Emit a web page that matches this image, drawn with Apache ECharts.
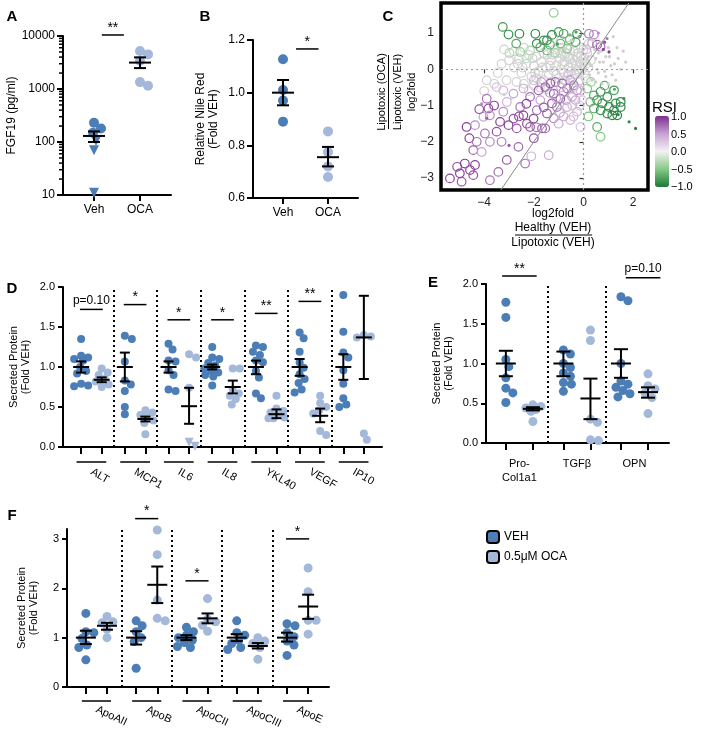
<!DOCTYPE html>
<html><head><meta charset="utf-8">
<script src="https://cdn.jsdelivr.net/npm/echarts@6/dist/echarts.min.js"></script>
<style>html,body{margin:0;padding:0;background:#fff}#c{width:704px;height:734px}</style>
</head><body><div id="c"></div>
<script>
const FONT = '"Liberation Sans", Arial, Helvetica, sans-serif';
const DARK = '#4b7db6', LIGHT = '#a4b8da';

// ---------- Panel A : FGF19 ----------
const aCats = ['Veh', 'OCA'];
const aVehCircles = [180, 230, 150];
const aVehTriangles = [105, 70, 11];
const aOcaCircles = [5200, 4500, 3400, 1150, 1350];
const aMean = [130, 3150], aLow = [100, 2480], aHigh = [158, 3950];
const aSig = [[1.41, 10450, '**']];
const aTicks = [10, 100, 1000, 10000];
const aMinor = [20,30,40,50,60,70,80,90,200,300,400,500,600,700,800,900,2000,3000,4000,5000,6000,7000,8000,9000];

// ---------- Panel B : Nile Red ----------
const bCats = ['Veh', 'OCA'];
const bVeh = [1.127, 1.01, 0.97, 0.89];
const bOca = [0.853, 0.775, 0.72, 0.68];
const bMean = [1.0, 0.755], bLow = [0.952, 0.72], bHigh = [1.048, 0.794];
const bSig = [[1.54, 1.166, '*']];

// ---------- Panel C : log2fold scatter [x, y, RSI] ----------
const cSigOpen = [
[-1.20,1.56,-0.45],[-3.25,1.17,-0.8],[-3.02,0.96,-0.85],[-2.58,0.98,-0.9],[-2.71,0.71,-0.7],[-2.98,0.45,-0.3],[-2.55,0.48,-0.4],[-2.15,0.52,-0.3],[-1.94,0.98,-0.9],[-1.88,0.71,-0.85],[-1.74,0.61,-0.75],[-1.60,0.80,-0.8],[-1.47,0.80,-0.85],[-1.47,0.52,-0.6],[-1.35,0.68,-0.7],[-1.27,0.95,-0.9],[-1.00,1.03,-0.8],[-0.93,0.71,-0.6],[-0.80,0.98,-0.75],[-0.66,0.57,-0.5],[-0.55,0.82,-0.6],[-0.32,0.75,-0.7],[-0.26,0.98,-0.85],[-2.30,0.30,-0.25],[-1.15,0.45,-0.35],
[0.22,0.98,0.7],[0.42,0.96,0.6],[0.35,0.72,0.5],[0.55,0.68,0.8],[0.69,0.62,0.75],[0.12,0.55,0.4],
[0.15,-0.53,-0.5],[0.42,-0.72,-0.7],[0.69,-0.62,-0.8],[0.96,-0.76,-0.85],[1.23,-0.58,-0.8],[0.28,-0.90,-0.6],[0.55,-0.85,-0.8],[0.76,-0.94,-0.85],[1.03,-1.04,-0.9],[1.30,-0.94,-0.9],[1.50,-0.90,-0.9],[0.42,-1.08,-0.7],[0.69,-1.13,-0.85],[0.96,-1.22,-0.9],[1.16,-1.27,-0.95],[1.36,-1.27,-0.95],[1.23,-1.13,-0.9],[0.55,-1.59,-0.7],[0.69,-1.86,-0.5],[1.50,-1.04,-0.9],[0.30,-0.35,-0.4],[0.85,-0.45,-0.7],[0.20,-1.30,-0.55],
[-5.38,-3.01,0.9],[-5.09,-2.69,0.85],[-4.91,-3.10,0.8],[-4.98,-2.87,0.9],[-4.78,-2.60,0.95],[-4.57,-2.78,0.9],[-4.44,-2.92,0.85],[-4.37,-2.64,0.9],[-4.71,-1.59,0.95],[-4.37,-1.54,0.6],[-4.44,-2.23,0.8],[-4.10,-2.28,0.5],[-3.97,-1.77,0.7],[-3.90,-0.81,0.7],[-3.83,-1.08,0.85],[-3.77,-1.27,0.6],[-4.03,-1.31,0.5],[-3.77,-3.06,0.7],[-3.43,-2.83,0.75],[-3.77,-2.00,0.6],[-3.50,-1.72,0.85],[-3.36,-1.45,0.9],[-3.23,-1.17,0.6],[-3.09,-0.90,0.4],[-3.02,-1.54,0.9],[-2.82,-1.36,0.85],[-2.69,-1.63,0.8],[-2.55,-1.04,0.7],[-2.42,-1.27,0.9],[-2.28,-1.50,0.85],[-2.35,-2.60,0.7],[-2.62,-2.14,0.75],[-3.09,-2.50,0.8],[-2.15,-1.59,0.8],[-2.01,-1.36,0.9],[-1.88,-1.13,0.7],[-1.74,-0.85,0.5],[-1.67,-1.63,0.8],[-1.54,-1.63,0.75],[-1.40,-2.37,0.45],[-1.47,-1.22,0.8],[-1.27,-0.94,0.85],[-1.20,-0.67,0.8],[-1.07,-1.04,0.7],[-0.93,-0.81,0.75],[-0.86,-0.39,0.8],[-0.66,-0.53,0.7],[-0.53,-0.30,0.6],[-0.39,-0.44,0.7],[-0.26,-0.58,0.6],[-0.46,-0.76,0.5],[-0.66,-1.04,0.45],[-0.26,-1.17,0.4],[-0.12,-1.59,0.3],[-0.53,-1.40,0.4],[-0.32,-0.85,0.5],[-2.82,-0.67,0.5],[-2.42,-0.53,0.45],[-2.15,-0.76,0.7],[-3.23,-0.58,0.35],[-3.50,-0.49,0.3],[-1.81,-0.58,0.75],[-1.54,-0.49,0.8],[-1.34,-0.39,0.85],[-1.13,-0.35,0.7],[-0.80,-0.62,0.6],[-0.05,-0.85,0.3],[-0.12,-0.58,0.35],[-2.00,-1.90,0.85],[-1.90,-1.60,0.7],[-1.20,-1.35,0.6],[-0.95,-1.20,0.5],[-0.70,-0.85,0.55],[-1.60,-1.05,0.8],[-2.30,-0.95,0.9],[-2.60,-1.30,0.85],[-3.60,-1.00,0.9],[-4.20,-1.10,0.85],[-4.60,-1.90,0.9],[-4.30,-2.00,0.7],[-3.30,-2.00,0.65],[-2.10,-2.40,0.4],[-1.00,-1.50,0.45],[-0.40,-1.30,0.35],
[-0.60,-0.15,0.3],[-0.20,-0.35,0.3],[-0.90,-0.50,0.4],[-1.10,-0.80,0.5],[-0.45,-1.00,0.35],[-0.15,-1.00,0.3],[-0.80,-1.30,0.45],[-1.35,-0.65,0.6],[-2.00,-0.30,0.35],[-1.70,-0.35,0.5]
];
const cSigDots = [[0.80,0.55,0.9],[1.03,0.48,0.95],[0.60,1.00,0.6],[0.85,0.75,0.85],[0.95,0.85,0.7],[1.84,-1.45,-0.9],[2.10,-1.63,-0.95],[1.63,-0.81,-0.85],[1.25,-0.55,-0.7],[1.40,-1.25,-0.9],[1.05,-0.62,-0.7],[-0.30,1.03,-0.8],[-0.15,0.90,-0.7],[-1.05,0.70,-0.8],[-0.55,0.95,-0.6],[-3.90,-1.35,0.8],[-3.00,-2.10,0.8],[-4.10,-0.95,0.6]];
const cGrayOpen = [[-3.3,0.15],[-3.0,0.25],[-2.8,0.05],[-2.6,0.3],[-2.5,-0.1],[-2.3,0.15],[-2.2,0.4],[-2.1,-0.2],[-2.0,0.1],[-1.9,0.35],[-1.8,-0.05],[-1.7,0.2],[-1.6,-0.3],[-1.5,0.05],[-1.45,0.4],[-1.4,-0.15],[-1.3,0.25],[-1.2,-0.05],[-1.15,0.55],[-1.1,0.1],[-1.0,-0.25],[-0.95,0.3],[-0.9,0.0],[-0.85,0.6],[-0.8,-0.1],[-0.75,0.2],[-0.7,0.45],[-0.65,-0.2],[-0.6,0.05],[-0.55,0.3],[-0.5,-0.05],[-0.45,0.15],[-0.4,0.5],[-0.35,-0.15],[-0.3,0.1],[-0.25,0.35],[-0.2,-0.05],[-0.15,0.2],[-0.1,0.6],[-0.05,0.0],[0.0,0.3],[0.05,-0.1],[0.1,0.15],[0.15,0.45],[0.2,0.05],[0.3,0.25],[-3.6,-0.4],[-3.1,-0.3],[-2.7,-0.35],[-2.4,-0.4],[-2.0,-0.45],[-1.75,-0.5],[-1.3,-0.35],[-0.9,0.8],[-2.8,0.5],[-3.2,0.55],[-0.3,0.75],[0.2,0.7],[-1.9,-0.25],[-1.1,-0.15],[-0.6,0.65],[-2.4,0.6],[-0.2,0.45],[-1.6,0.45],[-0.75,0.35],[-3.9,-0.3],[-4.0,-0.6],
[-0.9,0.45],[-0.6,0.35],[-0.35,0.25],[-0.1,0.35],[0.05,0.2],[-0.45,-0.25],[-0.75,-0.3],[-1.25,0.4],[-1.65,0.05],[-2.05,0.3],[-2.45,0.05],[-0.15,-0.3],[0.1,-0.25],[-0.55,0.55],[-1.05,0.45],[-1.35,0.1],[-0.25,0.0],[0.0,0.55],[-0.85,0.15],[-1.95,-0.1],[-2.65,0.15],[-3.45,-0.1],[-0.4,-0.5],[-1.5,-0.55],[-2.2,-0.6]];
const cGrayDots = [[0.3,0.1],[0.5,0.3],[0.6,-0.1],[0.7,0.5],[0.8,0.2],[0.9,-0.2],[1.0,0.6],[1.1,0.1],[1.2,0.9],[1.3,-0.3],[1.4,0.3],[0.4,0.8],[0.55,0.0],[0.75,-0.4],[1.5,0.0],[0.9,0.35],[-0.2,0.9],[-0.5,0.8],[0.35,-0.3],[1.6,0.5],[-3.2,-0.7],[-2.9,-0.8],
[0.2,0.35],[0.45,0.55],[0.65,0.2],[0.85,-0.05],[1.05,0.35],[1.25,0.15],[0.5,-0.35],[1.15,-0.15],[0.7,0.75],[1.35,0.6],[0.25,-0.15],[1.0,-0.4],[1.7,0.2],[0.6,0.45]];
const cXTicks = [-4, -2, 0, 2];
const cYTicks = [-3, -2, -1, 0, 1];
const rsiTicks = ['1.0', '0.5', '0.0', '\u22120.5', '\u22121.0'];

// ---------- Panel D : secreted proteins ----------
const dCats = ['ALT', 'MCP1', 'IL6', 'IL8', 'YKL40', 'VEGF', 'IP10'];
const dVeh = [
  [1.35,1.14,1.12,1.10,1.08,1.00,0.95,0.92,0.79,0.77,0.76],
  [1.39,1.35,1.07,0.83,0.78,0.70,0.50,0.41],
  [1.29,1.22,1.08,1.07,0.96,0.90,0.72,0.70],
  [1.25,1.12,1.10,1.05,1.02,0.98,0.95,0.93,0.90,0.88,0.77],
  [1.27,1.25,1.19,1.15,1.08,1.06,0.95,0.87,0.67,0.61],
  [1.43,1.36,1.19,1.06,0.99,0.91,0.85,0.80,0.72,0.68],
  [1.90,1.44,1.18,1.12,0.96,0.79,0.61,0.53,0.50]
];
const dOca = [
  [0.98,0.93,0.90,0.85,0.82,0.78,0.75],
  [0.46,0.43,0.40,0.38,0.33,0.30,0.16],
  [1.16,1.12,0.74],
  [0.98,0.98,0.72,0.67,0.64,0.60,0.53],
  [0.64,0.48,0.45,0.43,0.40,0.37,0.36,0.36],
  [0.64,0.55,0.50,0.46,0.42,0.20,0.15],
  [1.40,1.38,1.37,0.17,0.09]
];
const dOcaTriangles = [[], [], [0.06, 0.01], [], [], [], []];
const dVehMean = [1.0,1.0,1.0,1.0,1.0,1.0,1.0];
const dVehLow  = [0.93,0.82,0.93,0.97,0.91,0.89,0.84];
const dVehHigh = [1.07,1.18,1.07,1.03,1.08,1.10,1.16];
const dOcaMean = [0.84,0.35,0.51,0.75,0.41,0.39,1.37];
const dOcaLow  = [0.81,0.32,0.29,0.67,0.36,0.31,0.85];
const dOcaHigh = [0.87,0.38,0.74,0.83,0.47,0.48,1.89];
const dSig = [[0,1.72,'p=0.10'],[1,1.78,'*'],[2,1.59,'*'],[3,1.59,'*'],[4,1.67,'**'],[5,1.82,'**']];

// ---------- Panel E : fibrosis markers ----------
const eCats = ['Pro-\nCol1a1', 'TGF\u03b2', 'OPN'];
const eVeh = [
  [1.77,1.58,1.05,0.96,0.82,0.69,0.63,0.51],
  [1.17,1.12,1.00,0.95,0.88,0.84,0.76,0.74,0.65],
  [1.84,1.79,1.00,0.78,0.74,0.70,0.66,0.62,0.58]
];
const eOca = [
  [0.48,0.46,0.44,0.42,0.40,0.27],
  [1.42,1.29,0.30,0.26,0.04,0.03],
  [0.87,0.72,0.68,0.63,0.57,0.37]
];
const eVehMean = [1.0,1.0,1.0], eVehLow = [0.84,0.84,0.82], eVehHigh = [1.16,1.15,1.18];
const eOcaMean = [0.43,0.56,0.64], eOcaLow = [0.41,0.30,0.57], eOcaHigh = [0.45,0.81,0.70];
const eSig = [[0,2.10,'**'],[2.15,2.08,'p=0.10']];

// ---------- Panel F : apolipoproteins ----------
const fCats = ['ApoAII', 'ApoB', 'ApoCII', 'ApoCIII', 'ApoE'];
const fVeh = [
  [1.49,1.12,1.10,0.98,0.85,0.80,0.55],
  [1.34,1.24,1.12,1.00,0.92,0.38],
  [1.21,1.12,1.05,1.00,0.95,0.90,0.82,0.80],
  [1.34,1.10,1.05,0.95,0.88,0.80,0.76],
  [1.28,1.24,1.10,1.02,0.93,0.85,0.64]
];
const fOca = [
  [1.43,1.32,1.30,1.17,1.00],
  [3.18,2.68,1.76,1.39,1.34],
  [1.79,1.38,1.32,1.25,1.13],
  [1.00,0.93,0.88,0.80,0.56],
  [2.41,1.93,1.35,1.35,1.07]
];
const fVehMean = [1.0,1.0,1.0,1.0,1.0], fVehLow = [0.87,0.86,0.95,0.93,0.92], fVehHigh = [1.14,1.13,1.05,1.07,1.10];
const fOcaMean = [1.24,2.07,1.39,0.83,1.63], fOcaLow = [1.16,1.70,1.29,0.78,1.38], fOcaHigh = [1.30,2.44,1.49,0.89,1.87];
const fSig = [[1,3.41,'*'],[2,2.15,'*'],[4,3.0,'*']];

// ================= layout helpers =================
function swarm(ys, r, maxOff) {
  const n = ys.length, off = new Array(n).fill(0), placed = [];
  const order = [...Array(n).keys()].sort((a, b) => ys[b] - ys[a]);
  for (const i of order) {
    let best = 0, bestScore = -1;
    for (let k = 0; k <= 2 * maxOff; k++) {
      const c = (k % 2 ? 1 : -1) * Math.ceil(k / 2);
      let md = Infinity;
      for (const j of placed) md = Math.min(md, Math.hypot(c - off[j], ys[i] - ys[j]));
      if (md >= 1.7 * r) { best = c; break; }
      if (md > bestScore) { bestScore = md; best = c; }
    }
    off[i] = best; placed.push(i);
  }
  return off;
}
function swarmXY(vals, center, pxPerX, toPx, r, maxOff) {
  const off = swarm(vals.map(toPx), r, maxOff);
  return vals.map((v, i) => [center + off[i] / pxPerX, v]);
}
function scatterS(idx, name, data, color, size, symbol, rot) {
  return { type: 'scatter', name, xAxisIndex: idx, yAxisIndex: idx, data, symbol: symbol || 'circle',
    symbolSize: size, symbolRotate: rot || 0, itemStyle: { color, opacity: 1 }, z: 3, silent: true };
}
function errS(idx, rows, meanW, capW) {
  return { type: 'custom', xAxisIndex: idx, yAxisIndex: idx, data: rows, z: 6, silent: true, clip: false,
    renderItem(p, api) {
      const x = api.value(0);
      const pm = api.coord([x, api.value(1)]), pl = api.coord([x, api.value(2)]), ph = api.coord([x, api.value(3)]);
      const st = { stroke: '#000', lineWidth: 2 };
      return { type: 'group', children: [
        { type: 'line', shape: { x1: pm[0] - meanW / 2, y1: pm[1], x2: pm[0] + meanW / 2, y2: pm[1] }, style: st },
        { type: 'line', shape: { x1: pl[0], y1: pl[1], x2: ph[0], y2: ph[1] }, style: st },
        { type: 'line', shape: { x1: pl[0] - capW / 2, y1: pl[1], x2: pl[0] + capW / 2, y2: pl[1] }, style: st },
        { type: 'line', shape: { x1: ph[0] - capW / 2, y1: ph[1], x2: ph[0] + capW / 2, y2: ph[1] }, style: st }
      ] };
    } };
}
function sigS(idx, rows, halfW) {
  return { type: 'custom', xAxisIndex: idx, yAxisIndex: idx, data: rows.map(r => [r[0], r[1]]), z: 6, silent: true, clip: false,
    renderItem(p, api) {
      const x = api.value(0), y = api.value(1);
      const a = api.coord([x - halfW, y]), b = api.coord([x + halfW, y]);
      const lab = rows[p.dataIndex][2];
      return { type: 'group', children: [
        { type: 'line', shape: { x1: a[0], y1: a[1], x2: b[0], y2: b[1] }, style: { stroke: '#000', lineWidth: 1.5 } },
        { type: 'text', style: { text: lab, x: (a[0] + b[0]) / 2, y: a[1] - (lab.length > 2 ? 3 : 0), align: 'center', verticalAlign: 'bottom',
          font: (lab.length > 2 ? '12px ' : '14px ') + FONT, fill: '#000' } }
      ] };
    } };
}
function underS(idx, centers, halfW, yBase, drop) {
  return { type: 'custom', xAxisIndex: idx, yAxisIndex: idx, data: centers.map(c => [c, yBase]), z: 6, silent: true, clip: false,
    renderItem(p, api) {
      const a = api.coord([api.value(0) - halfW, api.value(1)]), b = api.coord([api.value(0) + halfW, api.value(1)]);
      return { type: 'line', shape: { x1: a[0], y1: a[1] + drop, x2: b[0], y2: b[1] + drop }, style: { stroke: '#000', lineWidth: 1.5 } };
    } };
}
function sepS(idx, xs) {
  return { type: 'scatter', xAxisIndex: idx, yAxisIndex: idx, data: [], silent: true,
    markLine: { silent: true, symbol: 'none', animation: false, label: { show: false },
      lineStyle: { type: [2, 3], color: '#000', width: 2 }, data: xs.map(x => ({ xAxis: x })) } };
}
function yAx(idx, o) {
  return Object.assign({ gridIndex: idx, type: 'value', axisLine: { show: true, onZero: false, lineStyle: { color: '#000', width: 2 } },
    axisTick: { show: true, length: 5, lineStyle: { color: '#000', width: 2 } }, splitLine: { show: false },
    axisLabel: { color: '#000', fontSize: 11, fontFamily: FONT },
    nameLocation: 'middle', nameTextStyle: { color: '#000', fontSize: 11, fontFamily: FONT, lineHeight: 12 } }, o);
}
function xAx(idx, o) {
  return Object.assign({ gridIndex: idx, type: 'value', axisLine: { show: true, onZero: false, lineStyle: { color: '#000', width: 2 } },
    axisTick: { show: true, length: 7, lineStyle: { color: '#000', width: 2 } }, splitLine: { show: false },
    axisLabel: { color: '#000', fontSize: 11, fontFamily: FONT } }, o);
}
const fmt1 = v => v.toFixed(1);

// ================= build =================
const series = [];
// A
{
  const toPx = v => Math.log10(v) * 53;
  const vehAll = swarmXY(aVehCircles.concat(aVehTriangles), 1, 46, toPx, 5, 8);
  const ocaAll = swarmXY(aOcaCircles, 2, 46, toPx, 5, 8);
  series.push(scatterS(0, 'aVehC', vehAll.slice(0, aVehCircles.length), DARK, 10));
  series.push(scatterS(0, 'aVehT', vehAll.slice(aVehCircles.length), DARK, 10, 'triangle', 180));
  series.push(scatterS(0, 'aOca', ocaAll, LIGHT, 10));
  series.push(errS(0, [[1, aMean[0], aLow[0], aHigh[0]], [2, aMean[1], aLow[1], aHigh[1]]], 22, 12));
  series.push(sigS(0, aSig, 0.24));
  series.push({ type: 'custom', xAxisIndex: 0, yAxisIndex: 0, data: aMinor.map(v => [0.326, v]), silent: true, clip: false,
    renderItem(p, api) { const c = api.coord([api.value(0), api.value(1)]);
      return { type: 'line', shape: { x1: c[0] - 4, y1: c[1], x2: c[0], y2: c[1] }, style: { stroke: '#000', lineWidth: 1.5 } }; } });
}
// B
{
  const toPx = v => v * 263.8;
  series.push(scatterS(1, 'bVeh', swarmXY(bVeh, 1, 45, toPx, 5, 8), DARK, 10));
  series.push(scatterS(1, 'bOca', swarmXY(bOca, 2, 45, toPx, 5, 8), LIGHT, 10));
  series.push(errS(1, [[1, bMean[0], bLow[0], bHigh[0]], [2, bMean[1], bLow[1], bHigh[1]]], 22, 12));
  series.push(sigS(1, bSig, 0.25));
}
// C
const cIdx0 = series.length;
function ringS(data, r, colorFixed, filled) {
  return { type: 'custom', xAxisIndex: 2, yAxisIndex: 2, data, silent: true, z: filled ? 4 : 3,
    renderItem(p, api) {
      const c = api.coord([api.value(0), api.value(1)]);
      const col = colorFixed || api.visual('color');
      return { type: 'circle', shape: { cx: c[0], cy: c[1], r },
        style: filled ? { fill: col } : { fill: 'none', stroke: col, lineWidth: 1.2 } };
    } };
}
series.push(ringS(cGrayOpen, 4.3, '#d2d2d2', false));
series.push(ringS(cGrayDots, 1.6, '#cfcfcf', true));
series.push(ringS(cSigOpen, 4.3, null, false));
series.push(ringS(cSigDots, 1.6, null, true));
series.push({ type: 'scatter', xAxisIndex: 2, yAxisIndex: 2, data: [], silent: true,
  markLine: { silent: true, symbol: 'none', animation: false, label: { show: false },
    data: [
      { xAxis: 0, lineStyle: { type: [2, 3], color: '#9a9a9a', width: 1.2 } },
      { yAxis: 0, lineStyle: { type: [2, 3], color: '#9a9a9a', width: 1.2 } },
      [{ coord: [-3.33, -3.33], lineStyle: { type: 'solid', color: '#8a8a8a', width: 1 } }, { coord: [1.83, 1.83] }]
    ] } });
// D
{
  const toPx = v => v * 80;
  const vehPts = [], ocaPts = [], ocaTri = [], errRows = [], under = [];
  dCats.forEach((c, g) => {
    vehPts.push(...swarmXY(dVeh[g], g - 0.235, 43.7, toPx, 4, 8));
    const all = swarmXY(dOca[g].concat(dOcaTriangles[g]), g + 0.235, 43.7, toPx, 4, 8);
    ocaPts.push(...all.slice(0, dOca[g].length));
    ocaTri.push(...all.slice(dOca[g].length));
    errRows.push([g - 0.235, dVehMean[g], dVehLow[g], dVehHigh[g]]);
    errRows.push([g + 0.235, dOcaMean[g], dOcaLow[g], dOcaHigh[g]]);
    under.push(g);
  });
  series.push(scatterS(3, 'VEH', vehPts, DARK, 8));
  series.push(scatterS(3, '0.5\u03bcM OCA', ocaPts, LIGHT, 8));
  series.push(scatterS(3, 'dTri', ocaTri, LIGHT, 9, 'triangle', 180));
  series.push(errS(3, errRows, 16, 10));
  series.push(sigS(3, dSig, 0.26));
  series.push(underS(3, under, 0.34, 0, 15));
  series.push(sepS(3, [0.5, 1.5, 2.5, 3.5, 4.5, 5.5]));
}
// E
{
  const toPx = v => v * 79;
  const vehPts = [], ocaPts = [], errRows = [];
  eCats.forEach((c, g) => {
    vehPts.push(...swarmXY(eVeh[g], g - 0.235, 57.5, toPx, 4.5, 9));
    ocaPts.push(...swarmXY(eOca[g], g + 0.235, 57.5, toPx, 4.5, 9));
    errRows.push([g - 0.235, eVehMean[g], eVehLow[g], eVehHigh[g]]);
    errRows.push([g + 0.235, eOcaMean[g], eOcaLow[g], eOcaHigh[g]]);
  });
  series.push(scatterS(4, 'VEH', vehPts, DARK, 9));
  series.push(scatterS(4, '0.5\u03bcM OCA', ocaPts, LIGHT, 9));
  series.push(errS(4, errRows, 20, 14));
  series.push(sigS(4, eSig, 0.3));
  series.push(sepS(4, [0.5, 1.5]));
}
// F
{
  const toPx = v => v * 49.3;
  const vehPts = [], ocaPts = [], errRows = [], under = [];
  fCats.forEach((c, g) => {
    vehPts.push(...swarmXY(fVeh[g], g - 0.21, 50.3, toPx, 4.5, 9));
    ocaPts.push(...swarmXY(fOca[g], g + 0.21, 50.3, toPx, 4.5, 9));
    errRows.push([g - 0.21, fVehMean[g], fVehLow[g], fVehHigh[g]]);
    errRows.push([g + 0.21, fOcaMean[g], fOcaLow[g], fOcaHigh[g]]);
    under.push(g);
  });
  series.push(scatterS(5, 'VEH', vehPts, DARK, 9));
  series.push(scatterS(5, '0.5\u03bcM OCA', ocaPts, LIGHT, 9));
  series.push(errS(5, errRows, 20, 12));
  series.push(sigS(5, fSig, 0.23));
  series.push(underS(5, under, 0.29, 0, 14));
  series.push(sepS(5, [0.5, 1.5, 2.5, 3.5]));
}

const letter = (t, x, y) => ({ type: 'text', x, y, style: { text: t, font: 'bold 15px ' + FONT, fill: '#000', align: 'center', verticalAlign: 'middle' } });
const txt = (t, x, y, size, rot) => ({ type: 'text', x, y, rotation: rot || 0, style: { text: t, font: size + 'px ' + FONT, fill: '#000', align: 'center', verticalAlign: 'middle' } });
const ln = (x1, y1, x2, y2) => ({ type: 'line', shape: { x1, y1, x2, y2 }, style: { stroke: '#000', lineWidth: 1 } });

const graphic = [
  letter('A', 12, 17), letter('B', 205, 17), letter('C', 388, 17), letter('D', 12, 289), letter('E', 433, 283), letter('F', 12, 516),
  txt('Lipotoxic (OCA)', 382, 92, 11, Math.PI / 2), ln(388.5, 55, 388.5, 129),
  txt('Lipotoxic (VEH)', 397.5, 92, 11, Math.PI / 2),
  txt('log2fold', 412, 92, 11, Math.PI / 2),
  txt('log2fold', 553, 214, 12), txt('Healthy (VEH)', 553, 228, 12), ln(515, 235, 592, 235), txt('Lipotoxic (VEH)', 553, 243, 12),
  { type: 'text', x: 652, y: 108, style: { text: 'RSI', font: '15px ' + FONT, fill: '#000', align: 'left', verticalAlign: 'middle' } }
].concat(rsiTicks.map((t, i) => ({ type: 'text', x: 671, y: 117 + i * 17.5, style: { text: t, font: '11px ' + FONT, fill: '#000', align: 'left', verticalAlign: 'middle' } })));

const option = {
  animation: false,
  backgroundColor: '#fff',
  textStyle: { fontFamily: FONT },
  grid: [
    { left: 63, top: 36, width: 108, height: 159 },
    { left: 253, top: 40, width: 105, height: 158 },
    { left: 441, top: 3, width: 207, height: 187, show: true, borderColor: '#000', borderWidth: 3.5, backgroundColor: 'transparent' },
    { left: 63, top: 287, width: 319, height: 160 },
    { left: 486, top: 284, width: 183, height: 159 },
    { left: 67, top: 529, width: 262, height: 158 }
  ],
  xAxis: [
    xAx(0, { min: 0.326, max: 2.674, axisTick: { show: true, length: 6, lineStyle: { color: '#000', width: 2 }, customValues: [1, 2] },
      axisLabel: { customValues: [1, 2], formatter: v => aCats[Math.round(v) - 1], color: '#000', fontSize: 12, fontFamily: FONT, margin: 9 } }),
    xAx(1, { min: 0.333, max: 2.667, axisTick: { show: true, length: 6, lineStyle: { color: '#000', width: 2 }, customValues: [1, 2] },
      axisLabel: { customValues: [1, 2], formatter: v => bCats[Math.round(v) - 1], color: '#000', fontSize: 12, fontFamily: FONT, margin: 9 } }),
    { gridIndex: 2, type: 'value', min: -5.74, max: 2.6, axisLine: { show: false }, splitLine: { show: false },
      axisTick: { show: true, length: 4, customValues: cXTicks, lineStyle: { color: '#333', width: 1.2 } },
      axisLabel: { customValues: cXTicks, formatter: v => String(v).replace('-', '\u2212'), color: '#222', fontSize: 12, fontFamily: FONT, margin: 7 } },
    xAx(3, { min: -0.65, max: 6.65, axisTick: { show: true, length: 7, lineStyle: { color: '#000', width: 2 },
        customValues: [0,1,2,3,4,5,6].flatMap(g => [g - 0.235, g + 0.235]) },
      axisLabel: { customValues: [0,1,2,3,4,5,6], formatter: v => dCats[Math.round(v)], rotate: -30, color: '#000', fontSize: 11, fontFamily: FONT, margin: 24 } }),
    xAx(4, { min: -0.58, max: 2.6, axisTick: { show: true, length: 7, lineStyle: { color: '#000', width: 2 },
        customValues: [0,1,2].flatMap(g => [g - 0.235, g + 0.235]) },
      axisLabel: { customValues: [0,1,2], formatter: v => eCats[Math.round(v)], color: '#000', fontSize: 11, fontFamily: FONT, margin: 14, lineHeight: 14 } }),
    xAx(5, { min: -0.585, max: 4.625, axisTick: { show: true, length: 7, lineStyle: { color: '#000', width: 2 },
        customValues: [0,1,2,3,4].flatMap(g => [g - 0.21, g + 0.21]) },
      axisLabel: { customValues: [0,1,2,3,4], formatter: v => fCats[Math.round(v)], rotate: -25, color: '#000', fontSize: 11, fontFamily: FONT, margin: 22 } })
  ],
  yAxis: [
    yAx(0, { type: 'log', logBase: 10, min: 10, max: 10000, name: 'FGF19 (pg/ml)', nameGap: 45,
      nameTextStyle: { color: '#000', fontSize: 12, fontFamily: FONT },
      axisTick: { show: true, length: 6, lineStyle: { color: '#000', width: 2 }, customValues: aTicks },
      axisLabel: { customValues: aTicks, formatter: v => String(Math.round(v)), color: '#000', fontSize: 12, fontFamily: FONT } }),
    yAx(1, { min: 0.6, max: 1.2, interval: 0.2, name: 'Relative Nile Red\n(Fold VEH)', nameGap: 33,
      nameTextStyle: { color: '#000', fontSize: 12, fontFamily: FONT, lineHeight: 13 },
      axisTick: { show: true, length: 6, lineStyle: { color: '#000', width: 2 }, customValues: [0.6, 0.8, 1.0, 1.2] },
      axisLabel: { customValues: [0.6, 0.8, 1.0, 1.2], formatter: fmt1, color: '#000', fontSize: 12, fontFamily: FONT } }),
    { gridIndex: 2, type: 'value', min: -3.33, max: 1.83, axisLine: { show: false }, splitLine: { show: false },
      axisTick: { show: true, length: 4, customValues: cYTicks, lineStyle: { color: '#333', width: 1.2 } },
      axisLabel: { customValues: cYTicks, formatter: v => String(v).replace('-', '\u2212'), color: '#222', fontSize: 12, fontFamily: FONT, margin: 7 } },
    yAx(3, { min: 0, max: 2, interval: 0.5, name: 'Secreted Protein\n(Fold VEH)', nameGap: 31, axisLabel: { formatter: fmt1, color: '#000', fontSize: 11, fontFamily: FONT } }),
    yAx(4, { min: 0, max: 2, interval: 0.5, name: 'Secreted Protein\n(Fold VEH)', nameGap: 31, axisLabel: { formatter: fmt1, color: '#000', fontSize: 11, fontFamily: FONT } }),
    yAx(5, { min: 0, max: 3.2, name: 'Secreted Protein\n(Fold VEH)', nameGap: 27,
      axisTick: { show: true, length: 5, lineStyle: { color: '#000', width: 2 }, customValues: [0, 1, 2, 3] },
      axisLabel: { customValues: [0, 1, 2, 3], color: '#000', fontSize: 11, fontFamily: FONT } })
  ],
  visualMap: {
    type: 'continuous', min: -1, max: 1, dimension: 2, seriesIndex: [cIdx0 + 2, cIdx0 + 3],
    calculable: false, hoverLink: false, left: 655, top: 116, itemWidth: 14, itemHeight: 71, padding: 0, text: null,
    inRange: { color: ['#1a7a3a', '#86c886', '#f4f1f4', '#c6a3d3', '#7b2f8c'] }
  },
  legend: {
    data: ['VEH', '0.5\u03bcM OCA'], orient: 'vertical', left: 481, top: 525, itemGap: 6, itemWidth: 12, itemHeight: 12,
    icon: 'roundRect', itemStyle: { borderColor: '#000', borderWidth: 2 }, selectedMode: false,
    textStyle: { color: '#000', fontSize: 12, fontFamily: FONT }
  },
  graphic,
  series
};
const chart = echarts.init(document.getElementById('c'), null, { renderer: 'canvas' });
chart.setOption(option);
</script></body></html>
